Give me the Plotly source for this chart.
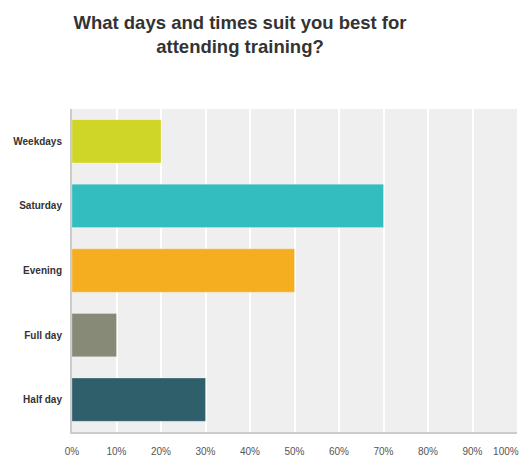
import plotly.graph_objects as go

categories = ["Weekdays", "Saturday", "Evening", "Full day", "Half day"]
values = [20, 70, 50, 10, 30]
colors = ["#d0d628", "#33bdbf", "#f6ae21", "#888a78", "#2f5f6b"]
tick_vals = [0, 10, 20, 30, 40, 50, 60, 70, 80, 90, 100]
tick_text = [f"{v}%" for v in tick_vals]

FONT = "Liberation Sans, Arial, sans-serif"

# keep the last tick label inside the page, as in the reference
display_ticks = tick_text[:-1] + [tick_text[-1] + "\u00a0" * 8]

fig = go.Figure(go.Bar(
    x=values, y=categories, orientation="h",
    marker=dict(color=colors, line=dict(color="rgba(255,255,255,0.25)", width=1)),
    width=0.67, hoverinfo="skip",
))

fig.update_layout(
    width=524, height=456,
    margin=dict(l=72, r=7, t=109, b=24, autoexpand=False),
    paper_bgcolor="white", plot_bgcolor="#efefef",
    showlegend=False,
    title=dict(
        text="<b>What days and times suit you best for<br>attending training?</b>",
        x=240/524, xanchor="center", xref="container",
        y=1 - 29/456, yanchor="middle", yref="container",
        font=dict(family=FONT, size=18.5, color="#333333"),
        automargin=False,
    ),
    font=dict(family=FONT, color="#333333"),
)
fig.update_yaxes(
    categoryorder="array", categoryarray=categories[::-1],
    showgrid=False, showline=True, linecolor="#cccccc", linewidth=2,
    ticks="", tickfont=dict(size=10, family=FONT, color="#333333"),
    ticklabelstandoff=6, tickprefix="<b>", ticksuffix="</b>",
    automargin=False,
)
fig.update_xaxes(
    range=[0, 100], tickvals=tick_vals, ticktext=display_ticks,
    showgrid=True, gridcolor="white", gridwidth=2,
    showline=True, linecolor="#cccccc", linewidth=2,
    zeroline=False, ticks="",
    tickfont=dict(size=10, family=FONT, color="#555555"),
    ticklabelstandoff=9, ticklabeloverflow="allow",
    automargin=False,
)

fig.write_html("out.html", config={"displayModeBar": False},
               post_script="document.body.style.margin='0';")
